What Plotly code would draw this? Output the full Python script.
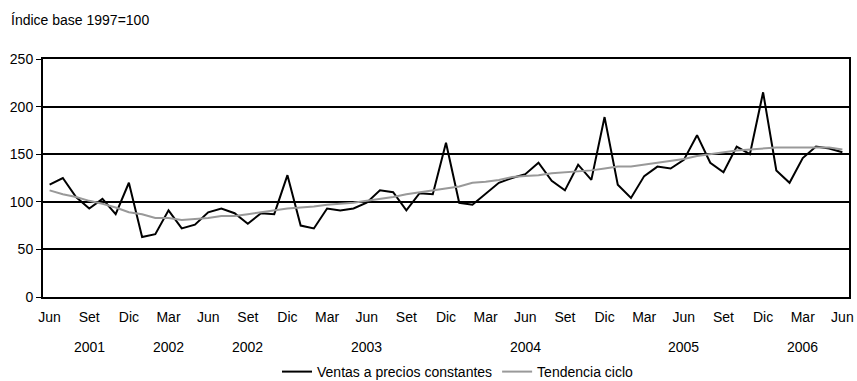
import plotly.graph_objects as go

# ---- data ----
month_names = ["Jun", "Jul", "Ago", "Set", "Oct", "Nov", "Dic", "Ene", "Feb", "Mar", "Abr", "May"]
start_year = 2001
n_points = 61
periods = []
for i in range(n_points):
    m = month_names[i % 12]
    y = start_year + (i + 5) // 12
    periods.append(f"{m} {y}")

ventas = [118, 125, 105, 93, 103, 87, 120, 63, 66, 91, 72, 76,
          89, 93, 88, 77, 88, 87, 128, 75, 72, 93, 91, 93,
          99, 112, 110, 91, 109, 108, 162, 99, 97, 108, 120, 125,
          129, 141, 122, 112, 139, 123, 189, 118, 104, 127, 137, 135,
          144, 170, 141, 131, 158, 150, 215, 133, 120, 146, 158, 156,
          152]

tendencia = [112, 108, 105, 101, 98, 94, 89, 87, 83, 83, 81, 82,
             83, 85, 85, 87, 89, 91, 93, 94, 95, 97, 98, 99,
             101, 103, 105, 108, 110, 112, 114, 116, 120, 121, 123, 126,
             127, 128, 130, 131, 132, 133, 135, 137, 137, 139, 141, 143,
             145, 148, 150, 152, 154, 155, 156, 157, 157, 157, 157, 157,
             155]

tick_periods = periods[::3]
tick_labels = [p.split(" ")[0] for p in tick_periods]

year_labels = ["2001", "2002", "2002", "2003", "2004", "2005", "2006"]
year_label_periods = ["Set 2001", "Mar 2002", "Set 2002", "Jun 2003", "Jun 2004", "Jun 2005", "Mar 2006"]

title_text = "Índice base 1997=100"

# ---- layout constants (pixels) ----
W, H = 857, 381
L, R, T, B = 43, 8, 59, 84
PW, PH = W - L - R, H - T - B
FONT = "Liberation Sans, Arial, sans-serif"
FS = 14


def py(pix):  # pixel y -> paper y
    return (H - B - pix) / PH


def px(pix):  # pixel x -> paper x
    return (pix - L) / PW


fig = go.Figure()
fig.add_trace(go.Scatter(x=periods, y=ventas, mode="lines",
                         name="Ventas a precios constantes",
                         line=dict(color="#000000", width=2)))
fig.add_trace(go.Scatter(x=periods, y=tendencia, mode="lines",
                         name="Tendencia ciclo",
                         line=dict(color="#999999", width=2)))

for lbl, per in zip(year_labels, year_label_periods):
    fig.add_annotation(x=per, y=py(347), xref="x", yref="paper", text=lbl,
                       showarrow=False, font=dict(size=FS, color="#000000", family=FONT),
                       xanchor="center", yanchor="middle")

fig.add_annotation(x=px(9), y=py(20), xref="paper", yref="paper", text=title_text,
                   showarrow=False, font=dict(size=FS, color="#000000", family=FONT),
                   xanchor="left", yanchor="middle")

fig.update_layout(
    width=W, height=H,
    margin=dict(l=L, r=R, t=T, b=B, autoexpand=False),
    paper_bgcolor="white", plot_bgcolor="white",
    font=dict(family=FONT, size=FS, color="#000000"),
    showlegend=True,
    legend=dict(orientation="h", x=458 / W, xanchor="center", xref="container",
                y=(H - 372) / H, yanchor="middle", yref="container",
                itemwidth=30, font=dict(size=FS),
                bgcolor="rgba(0,0,0,0)", tracegroupgap=0),
    xaxis=dict(type="category", categoryorder="array", categoryarray=periods,
               range=[-0.5, n_points - 0.5], tickmode="array",
               tickvals=tick_periods, ticktext=tick_labels,
               showgrid=False, showline=True, mirror=True, linecolor="#000000",
               linewidth=2, ticks="", ticklabelstandoff=6, automargin=False,
               tickfont=dict(size=FS), zeroline=False),
    yaxis=dict(range=[0, 250], dtick=50, tick0=0, showgrid=True,
               gridcolor="#000000", gridwidth=2, showline=True, mirror=True,
               linecolor="#000000", linewidth=2, ticks="outside", ticklen=5,
               tickcolor="#000000", tickwidth=1, tickfont=dict(size=FS),
               automargin=False, zeroline=False, fixedrange=True),
)

fig.write_html("out.html", config={"displayModeBar": False},
               post_script="document.body.style.margin='0px';document.body.style.overflow='hidden';")
